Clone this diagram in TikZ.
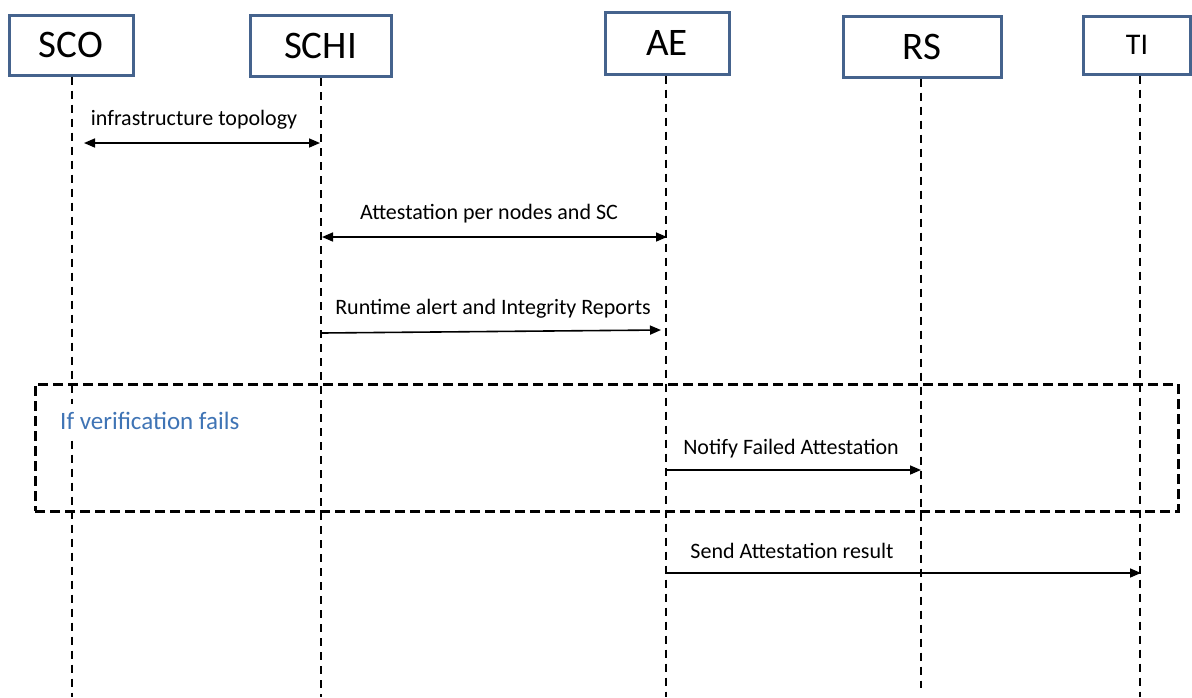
\documentclass[tikz,border=0pt]{standalone}
\usepackage{fontspec}
\setmainfont{Carlito}
\usetikzlibrary{arrows.meta}
\definecolor{boxedge}{HTML}{45638D}
\definecolor{notecol}{HTML}{3F74B5}
\begin{document}
\begin{tikzpicture}[x=1pt,y=-1pt,
  actor/.style={draw=boxedge,line width=3pt,fill=white,inner sep=0pt,font=\fontsize{39}{44}\selectfont},
  lifeline/.style={line width=1.6pt,dash pattern=on 8pt off 6pt},
  msg/.style={line width=1.6pt,-{Triangle[length=11pt,width=9pt]}},
  bimsg/.style={line width=1.6pt,{Triangle[length=11pt,width=9pt]}-{Triangle[length=11pt,width=9pt]}},
  msglabel/.style={font=\fontsize{22}{26}\selectfont,inner sep=0pt},
  frame/.style={line width=3pt,dash pattern=on 10pt off 5pt}]
\useasboundingbox (0,0) rectangle (1192,697);

% participants
\node[actor,minimum width=124pt,minimum height=60pt] (sco)  at (71,45)    {SCO};
\node[actor,minimum width=141pt,minimum height=61pt] (schi) at (320.5,46) {SCHI};
\node[actor,minimum width=124pt,minimum height=62pt] (ae)   at (667,43)   {AE};
\node[actor,minimum width=158pt,minimum height=61pt] (rs)   at (922,46.5) {RS};
\node[actor,minimum width=107pt,minimum height=58pt,font=\fontsize{30}{34}\selectfont] (ti) at (1137,45) {TI};

% lifeline ends
\coordinate (scoE)  at (72,697);
\coordinate (schiE) at (321,697);
\coordinate (aeE)   at (666,697);
\coordinate (rsE)   at (921,688);
\coordinate (tiE)   at (1140,697);

\draw[lifeline] (sco.south -| scoE) -- (scoE);
\draw[lifeline] (schi.south -| schiE) -- (schiE);
\draw[lifeline] (ae.south -| aeE) -- (aeE);
\draw[lifeline] (rs.south -| rsE) -- (rsE);
\draw[lifeline] (ti.south -| tiE) -- (tiE);

% message anchor points
\coordinate (m1a) at (84,143);   \coordinate (m1b) at (320,143);
\coordinate (m2a) at (322,237);  \coordinate (m2b) at (667,237);
\coordinate (m3a) at (322,333);  \coordinate (m3b) at (661,330);
\coordinate (m5a) at (666,470);  \coordinate (m5b) at (921,470);
\coordinate (m6a) at (666,573);  \coordinate (m6b) at (1141,573);

% messages
\draw[bimsg] (m1a) -- (m1b);
\node[msglabel] (l1) at (194,120) {infrastructure topology};
\draw[bimsg] (m2a) -- (m2b);
\node[msglabel] (l2) at (489,214) {Attestation per nodes and SC};
\draw[msg] (m3a) -- (m3b);
\node[msglabel] (l3) at (493,309) {Runtime alert and Integrity Reports};

% alternative frame
\node[draw,frame,minimum width=1143pt,minimum height=127pt,inner sep=0pt] (alt) at (606.5,447.5) {};
\node[fill=white,inner xsep=2pt,inner ysep=8pt,anchor=west,text=notecol,font=\fontsize{25}{30}\selectfont] (cond) at (58,421) {If verification fails};

\draw[msg] (m5a) -- (m5b);
\node[msglabel] (l5) at (791,449) {Notify Failed Attestation};
\draw[msg] (m6a) -- (m6b);
\node[msglabel] (l6) at (792,551) {Send Attestation result};
\end{tikzpicture}
\end{document}
